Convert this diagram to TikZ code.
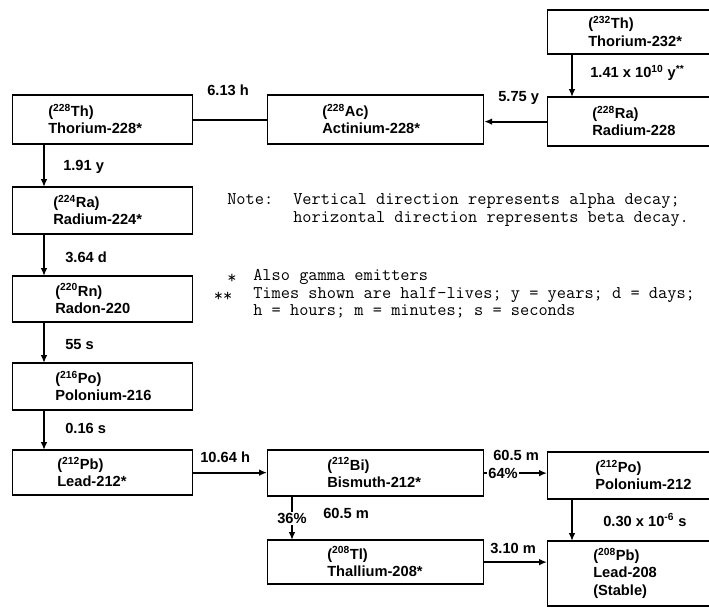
\documentclass[tikz,border=0pt]{standalone}
\usepackage{fontspec}
\setmainfont{Liberation Sans}
\usetikzlibrary{arrows.meta}
\newcommand\IsoBox[7]{%
  \node[boxside, minimum width={(#4-#2)*0.75pt}, minimum height={(#5-#3)*0.75pt}] (#1) at (#2,#3) {};
  \draw[boxrule] (#1.north west) -- (#1.north east) (#1.south west) -- (#1.south east);
  \node[iso] (#1-t) at ({#6},{(#3+#5)/2}) {#7};}
\begin{document}
\begin{tikzpicture}[x=0.75pt,y=-0.75pt,
  boxside/.style={draw, line width=0.9pt, inner sep=0pt, anchor=north west},
  boxrule/.style={line width=1.8pt},
  arr/.style={line width=1.4pt, -{Latex[length=6pt,width=5pt]}},
  plain/.style={line width=1.4pt},
  iso/.style={font=\bfseries\fontsize{11}{13}\selectfont, align=left, inner sep=0pt, anchor=west},
  lab/.style={font=\bfseries\fontsize{11}{13}\selectfont, inner sep=0pt, anchor=west},
  inl/.style={font=\bfseries\fontsize{11}{13}\selectfont, inner sep=1pt, fill=white, anchor=center},
  note/.style={font=\ttfamily\fontsize{13.4}{15}\selectfont, inner sep=0pt, anchor=base west},
  star/.style={font=\ttfamily\fontsize{13.4}{15}\selectfont, inner sep=0pt, anchor=base}]
\fill[white] (0,0) rectangle (709,607);
\useasboundingbox (0,0) rectangle (709,607);
\clip (0,0) rectangle (709,607);

% boxes
\IsoBox{th232}{547}{10}{722}{53}{588}{(\textsuperscript{232}Th)\\Thorium-232*}
\IsoBox{ra228}{547}{97}{722}{145}{592}{(\textsuperscript{228}Ra)\\Radium-228}
\IsoBox{ac228}{267}{95}{483}{143}{322}{(\textsuperscript{228}Ac)\\Actinium-228*}
\IsoBox{th228}{12}{95}{192}{143}{48}{(\textsuperscript{228}Th)\\Thorium-228*}
\IsoBox{ra224}{12}{187}{192}{233}{53}{(\textsuperscript{224}Ra)\\Radium-224*}
\IsoBox{rn220}{12}{276}{192}{321}{55}{(\textsuperscript{220}Rn)\\Radon-220}
\IsoBox{po216}{12}{363}{192}{409}{55}{(\textsuperscript{216}Po)\\Polonium-216}
\IsoBox{pb212}{12}{450}{192}{494}{57}{(\textsuperscript{212}Pb)\\Lead-212*}
\IsoBox{bi212}{267}{450}{483}{495}{327}{(\textsuperscript{212}Bi)\\Bismuth-212*}
\IsoBox{tl208}{267}{540}{483}{583}{327}{(\textsuperscript{208}Tl)\\Thallium-208*}
\IsoBox{po212}{547}{452}{722}{498}{595}{(\textsuperscript{212}Po)\\Polonium-212}
\IsoBox{pb208}{547}{541}{722}{605}{593}{(\textsuperscript{208}Pb)\\Lead-208\\(Stable)}

% connector columns
\coordinate (xr) at (572,0);
\coordinate (xl) at (44,0);
\coordinate (xm) at (292,0);

\draw[arr] (th232.south -| xr) -- (ra228.north -| xr);
\draw[arr] (ra228.west) -- (ra228.west -| ac228.east);
\draw[plain] (ac228.west) -- (ac228.west -| th228.east);
\draw[arr] (th228.south -| xl) -- (ra224.north -| xl);
\draw[arr] (ra224.south -| xl) -- (rn220.north -| xl);
\draw[arr] (rn220.south -| xl) -- (po216.north -| xl);
\draw[arr] (po216.south -| xl) -- (pb212.north -| xl);
\draw[arr] (pb212.east) -- (pb212.east -| bi212.west);
\draw[arr] (bi212.east) -- (bi212.east -| po212.west)
  node[inl, pos=0.3] (l64) {64\%};
\draw[arr] (bi212.south -| xm) -- (tl208.north -| xm)
  node[inl, pos=0.5] (l36) {36\%};
\draw[arr] (po212.south -| xr) -- (pb208.north -| xr);
\draw[arr] (tl208.east) -- (tl208.east -| pb208.west);

% half-life labels
\node[lab] (h1) at (590,73) {1.41 x 10\textsuperscript{10} y\textsuperscript{**}};
\node[lab] (h2) at (498,98) {5.75 y};
\node[lab] (h3) at (207,90) {6.13 h};
\node[lab] (h4) at (63,167) {1.91 y};
\node[lab] (h5) at (65,257) {3.64 d};
\node[lab] (h6) at (65,345) {55 s};
\node[lab] (h7) at (65,428) {0.16 s};
\node[lab] (h8) at (200,457) {10.64 h};
\node[lab] (h9) at (493,455) {60.5 m};
\node[lab] (h10) at (603,520) {0.30 x 10\textsuperscript{-6} s};
\node[lab] (h11) at (323,513) {60.5 m};
\node[lab] (h12) at (490,548) {3.10 m};

% notes
\node[note] (n1) at (227,204) {Note:};
\node[note] (n2) at (293,204) {Vertical direction represents alpha decay;};
\node[note] (n3) at (293,222) {horizontal direction represents beta decay.};
\node[star] (s1) at (232,283) {*};
\node[star] (s2) at (223,301) {**};
\node[note] (n4) at (253,280) {Also gamma emitters};
\node[note] (n5) at (253,298) {Times shown are half-lives; y = years; d = days;};
\node[note] (n6) at (253,315) {h = hours; m = minutes; s = seconds};
\end{tikzpicture}
\end{document}
